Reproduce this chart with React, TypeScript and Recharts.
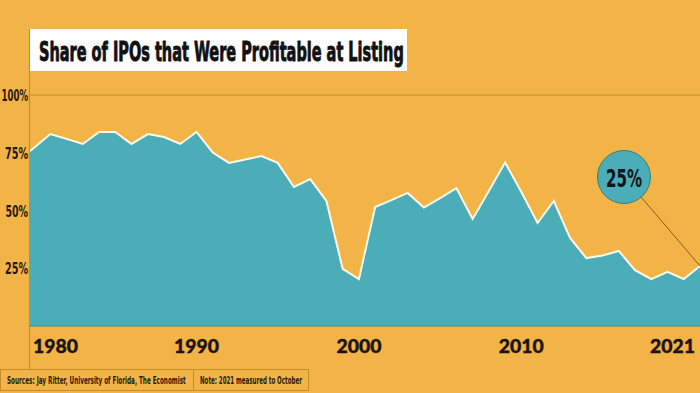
import React from "react";
import {
  AreaChart,
  Area,
  XAxis,
  YAxis,
  ReferenceLine,
  ReferenceDot,
} from "recharts";

// ---- data ----
const years = [
  1979, 1980, 1981, 1982, 1983, 1984, 1985, 1986, 1987, 1988, 1989, 1990,
  1991, 1992, 1993, 1994, 1995, 1996, 1997, 1998, 1999, 2000, 2001, 2002,
  2003, 2004, 2005, 2006, 2007, 2008, 2009, 2010, 2011, 2012, 2013, 2014,
  2015, 2016, 2017, 2018, 2019, 2020, 2021,
];
const shareProfitable = [
  71.4, 77.2, 83.1, 81.0, 78.8, 84.0, 84.0, 78.8, 83.1, 81.8, 78.8, 84.0,
  75.1, 70.6, 72.1, 73.6, 70.6, 60.2, 63.6, 54.1, 24.7, 20.3, 51.5, 54.5,
  57.6, 51.3, 55.4, 59.7, 46.3, 58.4, 70.8, 58.0, 44.6, 54.1, 38.1, 29.4,
  30.5, 32.5, 24.2, 20.3, 23.4, 20.3, 26.0,
];
const xTicks = [1980, 1990, 2000, 2010, 2021];
const yTicks = [25, 50, 75, 100];
const yTickLabels = ["25%", "50%", "75%", "100%"];
const title = "Share of IPOs that Were Profitable at Listing";
const sourceNote = "Sources: Jay Ritter, University of Florida, The Economist";
const dateNote = "Note: 2021 measured to October";
const calloutLabel = "25%";
const calloutAnchor = { x: 2016.32, y: 64.5 };
const lastPoint = { x: 2021, y: 26.0 };

const data = years.map((y, i) => ({ year: y, v: shareProfitable[i] }));

// ---- styles ----
const BG = "#f3b447";
const TEAL = "#4aadb7";
const RULE = "#c58d2c";
const INK = "#1c140b";
const NARROW =
  "'DejaVu Sans Condensed', 'Liberation Sans Narrow', 'Liberation Sans', Arial, sans-serif";

let ctx: CanvasRenderingContext2D | null = null;
function measure(text: string, font: string): number {
  if (typeof document === "undefined") return text.length * 6;
  if (!ctx) ctx = document.createElement("canvas").getContext("2d");
  if (!ctx) return text.length * 6;
  ctx.font = font;
  return ctx.measureText(text).width || text.length * 6;
}

type FitProps = {
  x: number;
  y: number;
  width: number;
  text: string;
  size: number;
  weight?: number;
  family?: string;
  anchor?: "start" | "middle" | "end";
  fill?: string;
  sy?: number;
  bold?: number;
};

const FitText = ({
  x,
  y,
  width,
  text,
  size,
  weight = 700,
  family = NARROW,
  anchor = "start",
  fill = INK,
  sy = 1,
  bold = 0,
}: FitProps) => {
  const natural = measure(text, `${weight} ${size}px ${family}`);
  const sx = width / natural;
  return (
    <text
      transform={`translate(${x},${y}) scale(${sx.toFixed(4)},${sy})`}
      textAnchor={anchor}
      fontFamily={family}
      fontWeight={weight}
      fontSize={size}
      fill={fill}
      stroke={bold ? fill : undefined}
      strokeWidth={bold || undefined}
      strokeLinejoin="round"
    >
      {text}
    </text>
  );
};

const yLabelWidth: Record<string, number> = {
  "100%": 26.5,
  "75%": 23,
  "50%": 22.5,
  "25%": 23,
};

const YTick = (props: any) => {
  const { x, y, payload } = props;
  const idx = yTicks.indexOf(payload.value);
  const label = yTickLabels[idx] ?? `${payload.value}%`;
  return (
    <FitText
      x={x}
      y={y + 6}
      width={yLabelWidth[label] ?? 23}
      text={label}
      size={16.5}
      weight={700}
      anchor="end"
      fill="#24180b"
    />
  );
};

const XTick = (props: any) => {
  const { x, y, payload, index } = props;
  const last = index === xTicks.length - 1;
  const first = index === 0;
  return (
    <FitText
      x={x + (first ? -1 : last ? -5 : 0)}
      y={y + 27}
      width={45}
      text={String(payload.value)}
      size={19}
      weight={900}
      family="Lato, 'Liberation Sans', Arial, sans-serif"
      anchor={first ? "start" : last ? "end" : "middle"}
      bold={0.4}
    />
  );
};

const Bubble = (props: any) => {
  const { cx, cy } = props;
  if (cx == null || cy == null) return null;
  return (
    <g>
      <circle cx={cx} cy={cy} r={26.5} fill={TEAL} stroke="#3f7d78" strokeWidth={1} />
      <FitText
        x={cx}
        y={cy + 9.5}
        width={36}
        text={calloutLabel}
        size={25.5}
        weight={700}
        anchor="middle"
        fill="#101418"
      />
    </g>
  );
};

export default function App() {
  return (
    <div
      style={{
        position: "absolute",
        left: 0,
        top: 0,
        width: 700,
        height: 393,
        background: BG,
        overflow: "hidden",
      }}
    >
      <AreaChart
        width={700}
        height={393}
        data={data}
        margin={{ top: 95, right: 0, bottom: 0, left: 0 }}
      >
        <XAxis
          dataKey="year"
          type="number"
          domain={[1979.75, 2021]}
          allowDataOverflow
          ticks={xTicks}
          interval={0}
          height={67}
          tickSize={0}
          tickMargin={0}
          tickLine={false}
          axisLine={{ stroke: "#3b8d95", strokeWidth: 1 }}
          tick={<XTick />}
        />
        <YAxis
          type="number"
          domain={[0, 100]}
          ticks={yTicks}
          width={30}
          tickSize={0}
          tickMargin={2}
          tickLine={false}
          axisLine={false}
          tick={<YTick />}
        />
        <ReferenceLine y={100} stroke={RULE} strokeWidth={1.2} />
        <Area
          type="linear"
          dataKey="v"
          stroke="#fffbea"
          strokeWidth={2}
          fill={TEAL}
          fillOpacity={1}
          isAnimationActive={false}
          dot={false}
          activeDot={false}
        />
        <ReferenceLine
          segment={[calloutAnchor, lastPoint]}
          stroke="#8a5a1c"
          strokeWidth={1}
        />
        <ReferenceDot
          x={calloutAnchor.x}
          y={calloutAnchor.y}
          r={26}
          shape={<Bubble />}
        />
      </AreaChart>
      <svg
        width={700}
        height={393}
        style={{ position: "absolute", left: 0, top: 0, pointerEvents: "none" }}
      >
        <line x1={29.5} y1={29} x2={29.5} y2={369} stroke={RULE} strokeWidth={1.2} />
        <rect x={30} y={29} width={377} height={42} fill="#ffffff" />
        <FitText
          x={39}
          y={61}
          width={365}
          text={title}
          size={26.5}
          weight={700}
          fill="#111111"
          bold={0.9}
        />
        <rect x={0.5} y={369.5} width={193} height={21} fill="none" stroke={RULE} strokeWidth={1} />
        <rect x={193.5} y={369.5} width={115} height={21} fill="none" stroke={RULE} strokeWidth={1} />
        <FitText
          x={7}
          y={384}
          width={179}
          text={sourceNote}
          size={11}
          weight={700}
          fill="#2a1c0c"
        />
        <FitText
          x={200}
          y={384}
          width={102}
          text={dateNote}
          size={11}
          weight={700}
          fill="#2a1c0c"
        />
      </svg>
    </div>
  );
}
